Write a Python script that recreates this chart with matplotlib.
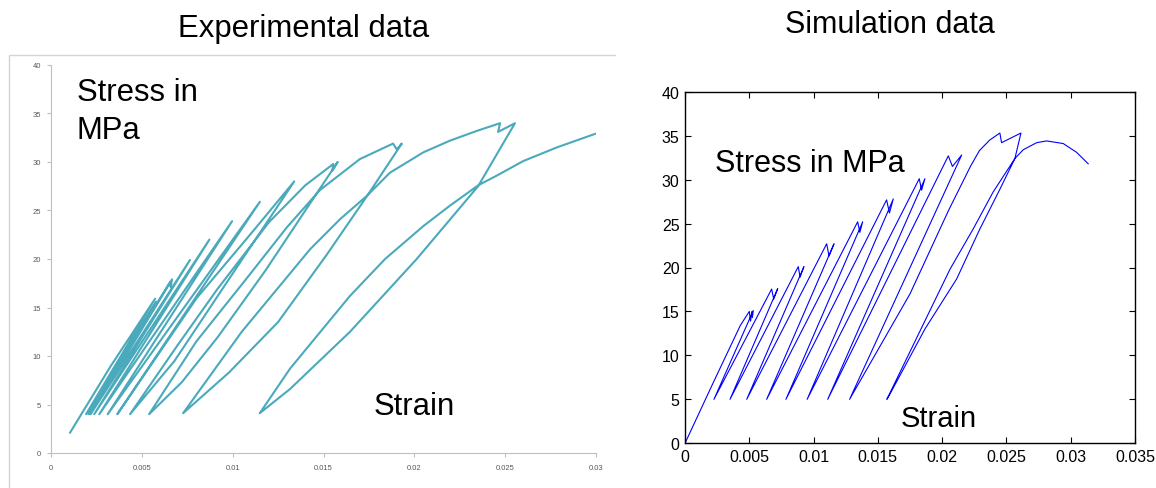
"""
Cyclic loading: experimental vs simulation stress-strain curves
"""
####################################################################################################################
# Libs
import matplotlib
matplotlib.use('Agg')
import matplotlib.pyplot as plt
from matplotlib.lines import Line2D

####################################################################################################################
# Data

# Experimental data - strain and stress in MPa
exp_strain = [
    0.00105, 0.00330, 0.00573, 0.00193, 0.00580, 0.00206, 0.00655, 0.00659, 0.00666, 0.00218,
    0.00765, 0.00238, 0.00872, 0.00266, 0.00997, 0.00312, 0.01150, 0.00365, 0.00803, 0.01100,
    0.01339, 0.01000, 0.00680, 0.00435, 0.00700, 0.00916, 0.01200, 0.01400, 0.01554, 0.01548,
    0.01578, 0.01400, 0.01180, 0.00920, 0.00720, 0.00540, 0.00800, 0.01077, 0.01300, 0.01480,
    0.01700, 0.01883, 0.01903, 0.01931, 0.01740, 0.01520, 0.01250, 0.00980, 0.00727, 0.01050,
    0.01426, 0.01591, 0.01738, 0.01866, 0.02050, 0.02196, 0.02343, 0.02472, 0.02461, 0.02554,
    0.02351, 0.02013, 0.01646, 0.01316, 0.01149, 0.01316, 0.01646, 0.01839, 0.02050, 0.02196,
    0.02352, 0.02454, 0.02600, 0.02784, 0.02995
]
exp_stress = [
    2.1, 9.0, 15.9, 4.0, 15.6, 4.0, 17.6, 17.1, 17.9, 4.0,
    19.9, 4.0, 22.0, 4.0, 23.9, 4.0, 25.9, 4.0, 16.0, 22.6,
    28.0, 18.5, 9.5, 4.0, 11.2, 16.9, 23.8, 27.6, 29.8, 29.1,
    30.0, 25.0, 18.8, 12.0, 7.3, 4.0, 11.5, 18.0, 23.3, 27.1,
    30.3, 31.9, 31.3, 31.9, 26.5, 20.5, 13.5, 8.3, 4.1, 12.5,
    21.0, 24.1, 26.5, 28.9, 31.0, 32.2, 33.2, 34.0, 33.1, 34.0,
    27.5, 20.0, 12.5, 6.6, 4.1, 8.7, 16.2, 20.0, 23.4, 25.5,
    27.6, 28.6, 30.1, 31.5, 32.9
]

# Simulation data - strain and stress in MPa
sim_strain = [
    0.0, 0.0021, 0.0043, 0.00500, 0.00510, 0.00520, 0.00524, 0.00531, 0.00225,
    0.00674, 0.00690, 0.00721, 0.00350,
    0.00881, 0.00895, 0.00925, 0.00480,
    0.01102, 0.01120, 0.01159, 0.00635,
    0.01343, 0.01360, 0.01382, 0.00785,
    0.01568, 0.01590, 0.01620, 0.00950,
    0.01822, 0.01840, 0.01866, 0.01110,
    0.02048, 0.02080, 0.02152, 0.01280,
    0.01750, 0.02050, 0.02220, 0.02290, 0.02370, 0.02449, 0.02462, 0.02613,
    0.02566, 0.02449, 0.02294, 0.02113, 0.01866, 0.01594, 0.01570,
    0.02061, 0.02242, 0.02397, 0.02566, 0.02631, 0.02735, 0.02813, 0.02942, 0.03046, 0.03136
]
sim_stress = [
    0.0, 6.6, 13.4, 15.0, 13.9, 15.0, 14.3, 15.1, 5.0,
    17.55, 16.4, 17.6, 5.0,
    20.1, 18.9, 20.1, 5.0,
    22.7, 21.3, 22.7, 5.0,
    25.2, 24.0, 25.2, 5.0,
    27.7, 26.2, 27.8, 5.0,
    30.1, 28.8, 30.1, 5.0,
    32.7, 31.5, 32.8, 5.0,
    17.0, 26.5, 31.5, 33.3, 34.5, 35.3, 34.2, 35.3,
    32.4, 28.9, 24.4, 18.7, 13.0, 5.6, 5.0,
    19.8, 24.4, 28.6, 32.4, 33.4, 34.2, 34.4, 34.1, 33.1, 31.8
]

# Ticks
exp_xticks = [0, 0.005, 0.01, 0.015, 0.02, 0.025, 0.03]
exp_xlabels = ['0', '0.005', '0.01', '0.015', '0.02', '0.025', '0.03']
sim_xticks = [0, 0.005, 0.01, 0.015, 0.02, 0.025, 0.03, 0.035]
sim_xlabels = ['0', '0.005', '0.01', '0.015', '0.02', '0.025', '0.03', '0.035']
yticks = [0, 5, 10, 15, 20, 25, 30, 35, 40]

####################################################################################################################
# Figure
plt.rcParams['font.family'] = ['Liberation Sans', 'DejaVu Sans']
W, H = 1156, 489
fig = plt.figure(figsize=(W / 100, H / 100), dpi=100)

def fx(px):  # pixel -> figure fraction
    return px / W

def fy(py):
    return 1 - py / H

# Excel chart frame (top and left edge only, the screenshot is cropped)
fig.lines.append(Line2D([fx(9), fx(9), fx(615)], [fy(495), fy(56), fy(56)],
                        transform=fig.transFigure, color='#d4d4d4', lw=1))

# Left: experimental
ax1 = fig.add_axes([fx(51), fy(454), fx(596) - fx(51), fy(66) - fy(454)])
ax1.plot(exp_strain, exp_stress, color='#4aaabb', lw=1.5)
ax1.set_xlim(0, 0.03)
ax1.set_ylim(0, 40)
ax1.set_xticks(exp_xticks, exp_xlabels)
ax1.set_yticks(yticks)
for s in ['top', 'right']:
    ax1.spines[s].set_visible(False)
for s in ['left', 'bottom']:
    ax1.spines[s].set_color('#bfbfbf')
ax1.tick_params(colors='#bfbfbf', labelcolor='#595959', labelsize=5.5, length=3, width=0.8)
ax1.tick_params(axis='y', pad=4)
ax1.tick_params(axis='x', pad=5)

# Right: simulation
ax2 = fig.add_axes([fx(685), fy(444.3), fx(1135) - fx(685), fy(92.7) - fy(444.3)])
ax2.plot(sim_strain, sim_stress, color='#0000ff', lw=0.8)
ax2.set_xlim(0, 0.035)
ax2.set_ylim(0, 40)
ax2.set_xticks(sim_xticks, sim_xlabels)
ax2.set_yticks(yticks)
for s in ax2.spines.values():
    s.set_linewidth(1.0)
ax2.tick_params(direction='in', top=True, right=True, length=4, width=0.8, labelsize=11.5, pad=4)

# Titles and labels
fig.text(fx(304), fy(37), 'Experimental data', fontsize=22.4, ha='center', va='baseline')
fig.text(fx(890), fy(33), 'Simulation data', fontsize=22, ha='center', va='baseline')
fig.text(fx(77), fy(100.7), 'Stress in', fontsize=22.4, va='baseline')
fig.text(fx(77), fy(139.3), 'MPa', fontsize=22.4, va='baseline')
fig.text(fx(374), fy(415), 'Strain', fontsize=22.4, va='baseline')
fig.text(fx(715), fy(171.7), 'Stress in MPa', fontsize=22, va='baseline')
fig.text(fx(901), fy(427.3), 'Strain', fontsize=21, va='baseline')

fig.savefig('out.png', dpi=100)
